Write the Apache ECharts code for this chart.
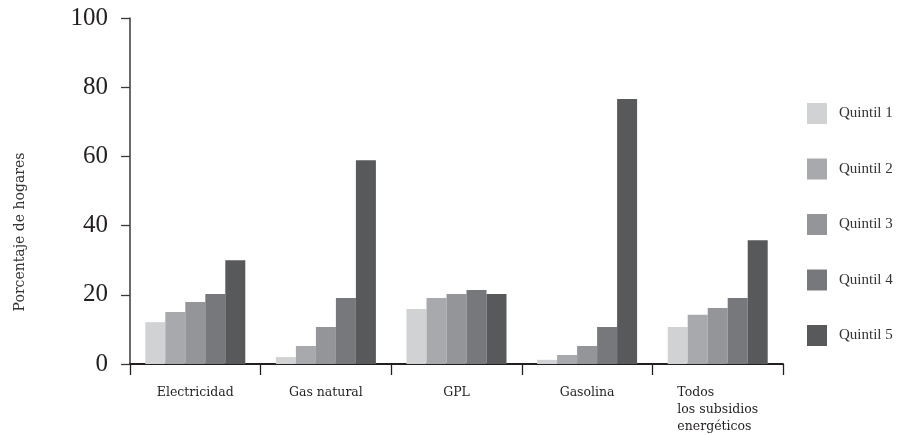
<!DOCTYPE html>
<html>
<head>
<meta charset="utf-8">
<script src="https://cdn.jsdelivr.net/npm/echarts@6/dist/echarts.min.js"></script>
<style>
html,body{margin:0;padding:0;background:#fff;}
#chart{width:910px;height:435px;}
</style>
</head>
<body>
<div id="chart"></div>
<script>
var categories = ['Electricidad', 'Gas natural', 'GPL', 'Gasolina', 'Todos\nlos subsidios\nenergéticos'];
var seriesNames = ['Quintil 1', 'Quintil 2', 'Quintil 3', 'Quintil 4', 'Quintil 5'];
var quintil1 = [12.1, 2.0, 15.9, 1.2, 10.7];
var quintil2 = [15.0, 5.2, 19.1, 2.6, 14.2];
var quintil3 = [17.9, 10.7, 20.2, 5.2, 16.2];
var quintil4 = [20.2, 19.1, 21.4, 10.7, 19.1];
var quintil5 = [30.0, 58.9, 20.2, 76.6, 35.8];
var yTicks = [0, 20, 40, 60, 80, 100];
var colors = ['#d1d2d4', '#a7a9ac', '#939598', '#77787b', '#58595b'];
var yTitle = 'Porcentaje de hogares';

var allData = [quintil1, quintil2, quintil3, quintil4, quintil5];
var FONT = '"Liberation Serif", "DejaVu Serif", serif';
var FONT2 = '"DejaVu Serif", "Liberation Serif", serif';

var chart = echarts.init(document.getElementById('chart'));
var series = seriesNames.map(function (n, i) {
  return {
    name: n,
    type: 'bar',
    data: allData[i],
    barWidth: 20,
    barGap: '0%',
    itemStyle: { color: colors[i] },
    emphasis: { disabled: true }
  };
});

chart.setOption({
  animation: false,
  backgroundColor: '#ffffff',
  grid: { left: 130, right: 127, top: 18, bottom: 71, containLabel: false },
  legend: {
    orient: 'vertical',
    left: 807,
    top: 103,
    padding: 0,
    icon: 'rect',
    itemWidth: 20,
    itemHeight: 21,
    itemGap: 34.5,
    data: seriesNames,
    textStyle: { fontFamily: FONT, fontSize: 15, color: '#333333', padding: [0, 0, 0, 7] }
  },
  xAxis: {
    type: 'category',
    data: categories,
    boundaryGap: true,
    axisLine: { lineStyle: { color: '#231f20', width: 2 } },
    axisTick: { show: true, length: 11, lineStyle: { color: '#231f20', width: 1.3 } },
    axisLabel: {
      interval: 0,
      margin: 20,
      fontFamily: FONT2,
      fontSize: 12.5,
      color: '#231f20',
      lineHeight: 17,
      formatter: function (v) {
        return v.split('\n').map(function (s) { return '{a|' + s + '}'; }).join('\n');
      },
      rich: { a: { align: 'left', fontFamily: FONT2, fontSize: 12.5, color: '#231f20', lineHeight: 17 } }
    }
  },
  yAxis: {
    type: 'value',
    min: 0,
    max: 100,
    interval: 20,
    splitLine: { show: false },
    axisLine: { show: true, lineStyle: { color: '#3a3a3a', width: 1.5 } },
    axisTick: { show: true, length: 9, lineStyle: { color: '#3a3a3a', width: 1.3 } },
    axisLabel: {
      margin: 22,
      fontFamily: FONT,
      fontSize: 25,
      color: '#231f20',
      formatter: function (v) { return yTicks.indexOf(v) >= 0 ? String(v) : ''; }
    }
  },
  graphic: [{
    type: 'text',
    x: 20,
    y: 232,
    rotation: Math.PI / 2,
    style: {
      text: yTitle,
      fontFamily: FONT2,
      fontSize: 14,
      fill: '#333333',
      align: 'center',
      verticalAlign: 'middle'
    }
  }],
  series: series
});
</script>
</body>
</html>
